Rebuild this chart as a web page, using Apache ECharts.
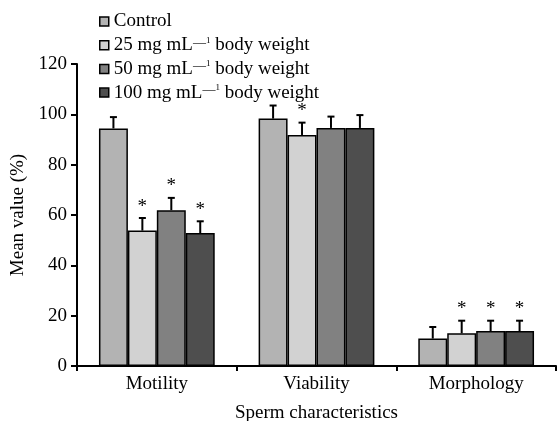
<!DOCTYPE html>
<html>
<head>
<meta charset="utf-8">
<script src="https://cdn.jsdelivr.net/npm/echarts@6/dist/echarts.min.js"></script>
<style>html,body{margin:0;padding:0;background:#fff;}#c{width:557px;height:421px;}</style>
</head>
<body>
<div id="c"></div>
<script>
var categories = ['Motility', 'Viability', 'Morphology'];
var seriesNames = ['Control', '25 mg mL-1 body weight', '50 mg mL-1 body weight', '100 mg mL-1 body weight'];
var controlVals = [94.4, 98.3, 10.9];
var controlErr = [4.5, 5.2, 4.6];
var controlSig = [0, 0, 0];
var mg25Vals = [53.8, 91.8, 13.0];
var mg25Err = [5.0, 4.9, 5.0];
var mg25Sig = [1, 1, 1];
var mg50Vals = [61.9, 94.6, 13.9];
var mg50Err = [4.9, 4.5, 4.1];
var mg50Sig = [1, 0, 1];
var mg100Vals = [52.8, 94.6, 13.9];
var mg100Err = [4.7, 5.1, 4.1];
var mg100Sig = [1, 0, 1];
var yTicks = [0, 20, 40, 60, 80, 100, 120];

var colors = ['#b3b3b3', '#d2d2d2', '#818181', '#4e4e4e'];
var font = "'Liberation Serif', 'Times New Roman', serif";
var gapFrac = 0.275;

var groups = [
  [controlVals, controlErr, controlSig],
  [mg25Vals, mg25Err, mg25Sig],
  [mg50Vals, mg50Err, mg50Sig],
  [mg100Vals, mg100Err, mg100Sig]
];
var errData = [];
groups.forEach(function (g, gi) {
  g[0].forEach(function (v, ci) {
    errData.push([ci, gi, v, g[1][ci], g[2][ci]]);
  });
});

var barSeries = groups.map(function (g, gi) {
  return {
    name: seriesNames[gi],
    type: 'bar',
    data: g[0],
    barGap: '0%',
    barCategoryGap: (gapFrac * 100) + '%',
    itemStyle: { color: colors[gi], borderColor: '#000', borderWidth: 1.5 },
    emphasis: { disabled: true },
    z: 2
  };
});

var chart = echarts.init(document.getElementById('c'), null, { renderer: 'canvas' });
chart.setOption({
  animation: false,
  textStyle: { fontFamily: font },
  grid: { left: 77, right: 1, top: 64, bottom: 55, containLabel: false, outerBoundsMode: 'none' },
  legend: {
    data: seriesNames,
    orient: 'vertical',
    left: 94,
    top: 7,
    itemWidth: 9,
    itemHeight: 9,
    itemGap: 4.7,
    icon: 'rect',
    itemStyle: { borderColor: '#000', borderWidth: 1.5 },
    formatter: function (name) {
      var m = name.match(/^(\d+) mg mL-1 body weight$/);
      if (!m) return '{n|' + name + '}';
      return '{n|' + m[1] + ' mg mL}{d|\u2014}{o|1}{n| body weight}';
    },
    textStyle: {
      fontFamily: font,
      color: '#000',
      fontSize: 19,
      rich: {
        n: { fontFamily: font, fontSize: 19, lineHeight: 19, color: '#000' },
        d: { fontFamily: font, fontSize: 13, lineHeight: 10, verticalAlign: 'top', color: '#000' },
        o: { fontFamily: font, fontSize: 9, lineHeight: 10, verticalAlign: 'top', color: '#000' }
      }
    }
  },
  xAxis: {
    type: 'category',
    data: categories,
    name: 'Sperm characteristics',
    nameLocation: 'middle',
    nameGap: 38,
    nameTextStyle: { fontFamily: font, fontSize: 19, color: '#000' },
    axisLine: { lineStyle: { color: '#000', width: 2 } },
    axisTick: { show: true, length: 5, lineStyle: { color: '#000', width: 2 } },
    axisLabel: { fontFamily: font, fontSize: 19, color: '#000', margin: 9 }
  },
  yAxis: {
    type: 'value',
    min: yTicks[0],
    max: yTicks[yTicks.length - 1],
    interval: yTicks[1] - yTicks[0],
    name: 'Mean value (%)',
    nameLocation: 'middle',
    nameGap: 45,
    nameTextStyle: { fontFamily: font, fontSize: 19, color: '#000' },
    axisLine: { show: true, lineStyle: { color: '#000', width: 2 } },
    axisTick: { show: true, length: 6, lineStyle: { color: '#000', width: 2 } },
    axisLabel: { fontFamily: font, fontSize: 19, color: '#000', margin: 10 },
    splitLine: { show: false }
  },
  series: barSeries.concat([{
    type: 'custom',
    name: 'err',
    data: errData,
    z: 3,
    silent: true,
    encode: { x: 0, y: 2 },
    renderItem: function (params, api) {
      var ci = api.value(0), gi = api.value(1), v = api.value(2), e = api.value(3), s = api.value(4);
      var band = api.size([1, 0])[0];
      var bw = band * (1 - gapFrac) / 4;
      var base = api.coord([ci, v]);
      var top = api.coord([ci, v + e]);
      var x = base[0] + (gi - 1.5) * bw;
      var st = { stroke: '#000', lineWidth: 2 };
      var children = [
        { type: 'line', shape: { x1: x, y1: base[1], x2: x, y2: top[1] }, style: st },
        { type: 'line', shape: { x1: x - 3.5, y1: top[1], x2: x + 3.5, y2: top[1] }, style: st }
      ];
      if (s) {
        children.push({
          type: 'text',
          style: { text: '*', x: x, y: top[1] - 2, align: 'center', verticalAlign: 'bottom', fontFamily: font, fontSize: 19, fill: '#000' }
        });
      }
      return { type: 'group', children: children };
    }
  }])
});
</script>
</body>
</html>
